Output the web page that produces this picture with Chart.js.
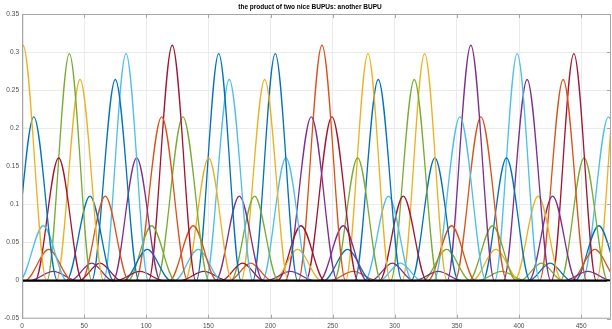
<!DOCTYPE html>
<html>
<head>
<meta charset="utf-8">
<script src="https://cdn.jsdelivr.net/npm/chart.js@4.4.1/dist/chart.umd.min.js"></script>
<style>
  html, body { margin: 0; padding: 0; background: #fff; }
  #wrap { width: 612px; height: 329px; }
</style>
</head>
<body>
<div id="wrap"><canvas id="bupuChart"></canvas></div>
<script>
// peaks (x in data units, height)
var peakX = [
  0.8, 9.5, 17.1, 21.5, 25.2, 29.5, 38.1, 46.7, 54.7, 56.0, 62.8, 67.0, 75.1, 83.7, 92.3, 94.9, 100.8, 104.3, 112.4,
  120.9, 129.5, 137.8, 141.8, 146.4, 150.2, 158.3, 166.8, 174.9, 177.5, 184.0, 187.2, 195.3, 203.8, 212.4, 216.0, 221.8, 224.5, 232.8,
  241.4, 249.4, 258.5, 262.0, 266.6, 270.1, 278.4, 286.7, 295.0, 298.0, 304.5, 306.8, 315.7, 324.0, 332.3, 335.0, 341.7, 345.7, 352.4,
  361.2, 369.3, 378.7, 381.4, 386.0, 389.9, 398.5, 406.5, 415.4, 418.0, 425.0, 427.0, 435.5, 444.1, 452.4, 455.4, 461.0, 464.2, 472.0,
  481.4
];
var peakY = [
  0.309, 0.215, 0.072, 0.041, 0.012, 0.161, 0.298, 0.264, 0.111, 0.023, 0.023, 0.111, 0.264, 0.298, 0.161, 0.012, 0.041, 0.072, 0.215,
  0.309, 0.215, 0.072, 0.041, 0.012, 0.161, 0.298, 0.264, 0.111, 0.023, 0.023, 0.111, 0.264, 0.298, 0.161, 0.012, 0.041, 0.072, 0.215,
  0.309, 0.215, 0.072, 0.041, 0.012, 0.161, 0.298, 0.264, 0.111, 0.023, 0.023, 0.111, 0.264, 0.298, 0.161, 0.012, 0.041, 0.072, 0.215,
  0.309, 0.215, 0.072, 0.041, 0.012, 0.161, 0.298, 0.264, 0.111, 0.023, 0.023, 0.111, 0.264, 0.298, 0.161, 0.012, 0.041, 0.072, 0.215,
  0.309
];
// distance from the peak to where each curve meets zero
var footWidth = [
  19, 19, 19, 19, 19, 19, 18, 19, 19, 17, 17, 19, 19, 18, 19, 19, 19, 19, 21,
  19, 21, 19, 19, 19, 19, 18, 19, 19, 17, 17, 19, 19, 18, 19, 19, 19, 19, 21,
  19, 21, 19, 19, 19, 19, 18, 19, 19, 17, 17, 19, 19, 18, 19, 19, 19, 19, 21,
  19, 21, 19, 19, 19, 19, 18, 19, 19, 17, 17, 19, 19, 18, 19, 19, 19, 19, 21,
  19
];
var xTicks = [0, 50, 100, 150, 200, 250, 300, 350, 400, 450];
var yTickLabels = ['-0.05', '0', '0.05', '0.1', '0.15', '0.2', '0.25', '0.3', '0.35'];
var xMin = 0, xMax = 474;
var yMin = -0.05, yMax = 0.35;

// matlab line colours, one letter per curve
var palette = { B: '#0072BD', O: '#D95319', Y: '#EDB120', P: '#7E2F8E', G: '#77AC30', C: '#4DBEEE', R: '#A2142F' };
var curveColor = (
  'YBCOPRGYBPROBCPRBGO' +
  'RGOCRYBCPROGYBCPYRP' +
  'ORPBOGYBCPCRGYBPGOC' +
  'POGYGBCPYGBPORGPOBC' +
  'Y').split('');

var datasets = [];
// thick black reference lines at y = 0 and x = 0
datasets.push({ data: [{x: xMin, y: 0}, {x: xMax, y: 0}], borderColor: '#000', borderWidth: 2.2, pointRadius: 0, order: 0 });
datasets.push({ data: [{x: 0, y: yMin}, {x: 0, y: yMax}], borderColor: '#1a1a1a', borderWidth: 2.2, pointRadius: 0, order: 0 });

for (var i = 0; i < peakX.length; i++) {
  var c = peakX[i], h = peakY[i], f = footWidth[i];
  datasets.push({
    data: [{x: c - f - 2, y: 0}, {x: c - f, y: 0}, {x: c, y: h}, {x: c + f, y: 0}, {x: c + f + 2, y: 0}],
    borderColor: palette[curveColor[i]],
    borderWidth: 1.3,
    pointRadius: 0,
    cubicInterpolationMode: 'monotone',
    order: 1
  });
}

var axisGray = '#a6a6a6';
var labelFont = { family: 'Liberation Sans, Arial, Helvetica', size: 6.5 };

// title + inward tick marks, matlab style
var matlabBits = {
  id: 'matlabBits',
  afterDraw: function(chart) {
    var ctx = chart.ctx, a = chart.chartArea;
    var xs = chart.scales.x, ys = chart.scales.y;
    ctx.save();
    ctx.strokeStyle = axisGray;
    ctx.lineWidth = 1;
    ctx.beginPath();
    xTicks.forEach(function(v) {
      var px = Math.round(xs.getPixelForValue(v)) + 0.5;
      ctx.moveTo(px, a.top); ctx.lineTo(px, a.top + 4);
      ctx.moveTo(px, a.bottom); ctx.lineTo(px, a.bottom - 4);
    });
    yTickLabels.forEach(function(t) {
      var py = Math.round(ys.getPixelForValue(parseFloat(t))) + 0.5;
      ctx.moveTo(a.right, py); ctx.lineTo(a.right - 4, py);
    });
    ctx.rect(a.left + 0.5, a.top + 0.5, a.right - a.left - 1, a.bottom - a.top - 1);
    ctx.stroke();
    ctx.fillStyle = '#000';
    ctx.font = 'bold 6.5px "Liberation Sans", Arial, Helvetica';
    ctx.textAlign = 'center';
    ctx.textBaseline = 'middle';
    ctx.fillText('the product of two nice BUPUs: another BUPU', 310, 7);
    ctx.restore();
  }
};

var ctx = document.getElementById('bupuChart').getContext('2d');
var chart = new Chart(ctx, {
  type: 'line',
  data: { datasets: datasets },
  options: {
    responsive: true,
    maintainAspectRatio: false,
    animation: false,
    devicePixelRatio: 1,
    layout: { padding: { top: 14, right: 1, bottom: 0, left: 0 } },
    plugins: { legend: { display: false }, title: { display: false }, tooltip: { enabled: false } },
    scales: {
      x: {
        type: 'linear',
        min: xMin,
        max: xMax,
        afterBuildTicks: function(s) { s.ticks = xTicks.map(function(v) { return { value: v }; }); },
        afterFit: function(s) { s.height = 10.3; },
        ticks: { font: labelFont, color: '#4d4d4d', padding: 3.5, maxRotation: 0 },
        grid: { color: '#ebebeb', drawTicks: false },
        border: { display: false }
      },
      y: {
        min: yMin,
        max: yMax,
        afterBuildTicks: function(s) { s.ticks = yTickLabels.map(function(t) { return { value: parseFloat(t) }; }); },
        afterFit: function(s) { s.width = 22; },
        ticks: {
          font: labelFont, color: '#4d4d4d', padding: 3,
          callback: function(v, idx) { return yTickLabels[idx]; }
        },
        grid: { color: '#ebebeb', drawTicks: false },
        border: { display: false }
      }
    }
  },
  plugins: [matlabBits]
});
</script>
</body>
</html>
